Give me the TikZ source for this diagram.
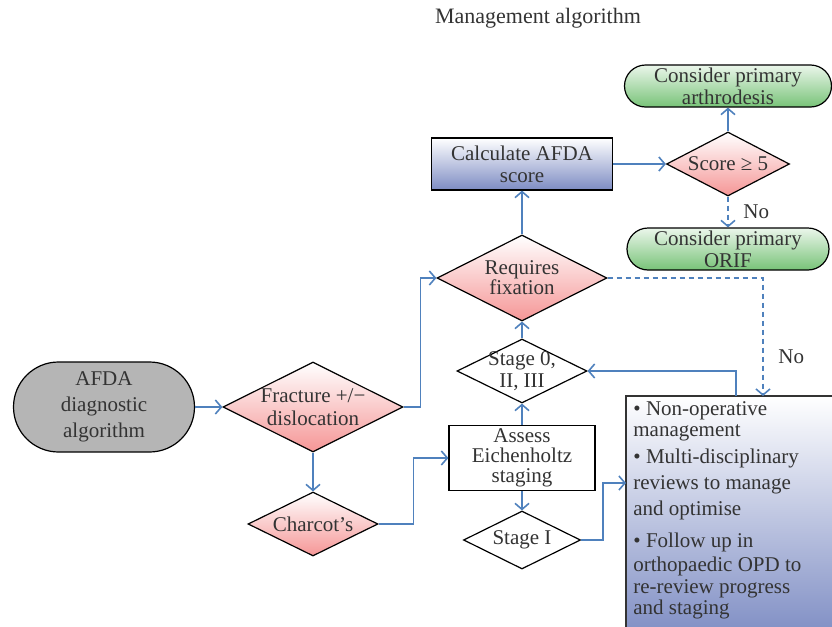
\documentclass[tikz,border=0pt]{standalone}
\usepackage{fontspec}
\setmainfont{Liberation Serif}
\usepackage{tikz}
\usetikzlibrary{positioning, shapes.geometric, arrows.meta}
\definecolor{lnk}{RGB}{79,129,189}
\definecolor{pnk}{RGB}{245,150,150}
\definecolor{grn}{RGB}{120,195,120}
\definecolor{blu}{RGB}{125,140,195}
\definecolor{gry}{RGB}{181,181,181}
\tikzset{D/.style={draw, diamond, aspect=2, inner sep=0pt, align=center, line width=0.6pt}}
\tikzset{P/.style={D, top color=white, bottom color=pnk}}
\tikzset{G/.style={draw, rounded corners=10.5pt, inner sep=0pt, align=center, minimum height=21pt, line width=0.6pt, top color=grn!15, bottom color=grn}}
\tikzset{B/.style={draw, inner sep=0pt, align=center, line width=0.6pt}}
\tikzset{E/.style={draw=lnk, line width=0.8pt, -{Straight Barb[length=3pt,width=7pt]}}}
\tikzset{N/.style={E, dash pattern=on 2.5pt off 2pt}}

\begin{document}
\begin{tikzpicture}[on grid, font=\fontsize{10.5}{11}\selectfont, text=black!80]
        \useasboundingbox (0,0) rectangle (416pt,-313.5pt);
        \node[font=\fontsize{11}{12}\selectfont] (title) at (269pt,-9pt) {Management algorithm};
        %% Left part
        \node[B, rounded corners=22.5pt, minimum width=90.5pt, minimum height=45pt, fill=gry, font=\fontsize{10.5}{13}\selectfont] (afda) at (52pt,-203.5pt) {AFDA\\diagnostic\\algorithm};
        \node[P, right=104.5pt of afda, minimum width=90pt, minimum height=45pt, font=\fontsize{10.5}{11.5}\selectfont] (frac) {Fracture +/−\\dislocation};
        \node[P, below=58.5pt of frac, minimum width=65pt, minimum height=32pt] (charcot) {Charcot’s};
        %% Middle column
        \node[P, above right=64.5pt and 104.5pt of frac, minimum width=85pt, minimum height=43pt, font=\fontsize{10.5}{10}\selectfont] (reqfix) {Requires\\fixation};
        \node[D, below=46.5pt of reqfix, inner sep=-2pt, minimum width=65pt, minimum height=32pt, fill=white] (stage0) {Stage 0,\\II, III};
        \node[B, below=43.5pt of stage0, minimum width=73pt, minimum height=32.5pt, font=\fontsize{10.5}{10}\selectfont] (assess) {Assess\\Eichenholtz\\staging};
        \node[D, below=41pt of assess, minimum width=58.5pt, minimum height=29pt, fill=white] (stage1) {Stage I};
        \node[B, above=57pt of reqfix, minimum width=90.5pt, minimum height=26pt, top color=white, bottom color=blu] (calc) {Calculate AFDA\\score};
        %% Right part
        \node[P, right=103pt of calc, aspect=1.92, minimum width=61.5pt, minimum height=32pt] (score) {Score ≥ 5};
        \node[G, above=39pt of score, minimum width=103.5pt] (arth) {Consider primary\\arthrodesis};
        \node[G, below=42.5pt of score, minimum width=101pt] (orif) {Consider primary\\ORIF};
        %% Care box
        \coordinate (cb) at (313pt,-198pt);
        \shade[draw=black!80, line width=0.6pt, top color=white, middle color=blu!22, bottom color=blu] (cb) rectangle ++(125pt,-122pt);
        \node[anchor=north west, align=left, inner xsep=3.5pt, inner ysep=0pt] (care) at ([yshift=-2.5pt]cb) {\textbullet{} Non-operative\\[-0.5pt]
management\\[2.7pt]
\textbullet{} Multi-disciplinary\\[2pt]
reviews to manage\\[1.8pt]
and optimise\\[5.3pt]
\textbullet{} Follow up in\\[0.7pt]
orthopaedic OPD to\\[0.2pt]
re-review progress\\[-0.5pt]
and staging};
        \coordinate (c1) at ([xshift=68.5pt]cb);
        \coordinate (c2) at ([xshift=55pt]cb);
        \coordinate (c3) at ([yshift=-43.5pt]cb);
        %% Edges
        \draw[E] (afda) -- (frac);
        \draw[E] (frac.east) -- ++(8.5pt,0) |- (reqfix.west);
        \draw[E] (frac) -- (charcot);
        \draw[E] (charcot.east) -- ++(17.5pt,0) |- (assess.west);
        \draw[E] (assess) -- (stage0);
        \draw[E] (stage0) -- (reqfix);
        \draw[E] (assess) -- (stage1);
        \draw[E] (reqfix) -- (calc);
        \draw[E] (calc) -- (score);
        \draw[E] (score) -- (arth);
        \draw[N] (score) -- node[right=4pt] {No} (orif);
        \draw[N] (reqfix.east) -| node[pos=0.835, right=4pt] {No} (c1);
        \draw[E] (c2) |- (stage0.east);
        \draw[E] (stage1.east) -- ++(11pt,0) |- (c3);
\end{tikzpicture}
\end{document}
